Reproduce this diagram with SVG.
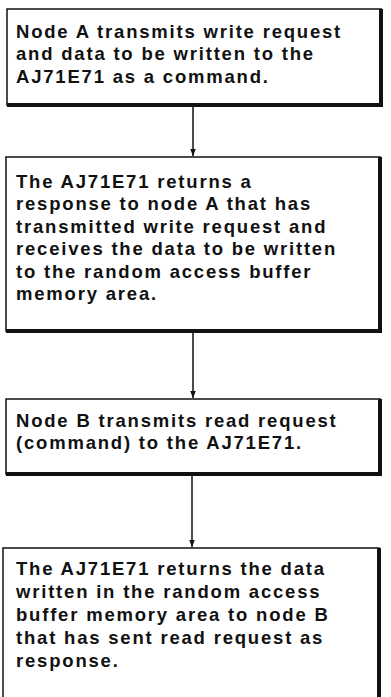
<svg xmlns="http://www.w3.org/2000/svg" width="391" height="697" viewBox="0 0 391 697">
<style>
.bg{fill:#ffffff}
.box{fill:#ffffff;stroke:#111;stroke-width:1.5}
.sh{stroke:#111;stroke-width:4;fill:none}
.t{font-family:"Liberation Sans",Arial,sans-serif;font-weight:bold;font-size:18.5px;fill:#111;letter-spacing:1.8px}
.c{stroke:#111;stroke-width:1.5;fill:none}
</style>
<defs>
<marker id="ah" markerWidth="8" markerHeight="8" refX="7.5" refY="4" orient="auto" markerUnits="userSpaceOnUse" viewBox="0 0 8 8">
<path d="M0,1 L7.5,4 L0,7 Z" fill="#111"/>
</marker>
</defs>
<rect class="bg" x="0" y="0" width="391" height="697"/>
<g id="connectors">
<line class="c" x1="193" y1="106" x2="193" y2="156" marker-end="url(#ah)"/>
<line class="c" x1="193" y1="332" x2="193" y2="398" marker-end="url(#ah)"/>
<line class="c" x1="192" y1="475" x2="192" y2="547" marker-end="url(#ah)"/>
</g>
<g id="node1">
<rect class="box" x="7" y="9" width="374" height="96"/>
<path class="sh" d="M7,105 L381,105 L381,9"/>
<text class="t" x="16" y="37.5">Node A transmits write request</text>
<text class="t" x="16" y="60">and data to be written to the</text>
<text class="t" x="16" y="82.5">AJ71E71 as a command.</text>
</g>
<g id="node2">
<rect class="box" x="6" y="157" width="374" height="174"/>
<path class="sh" d="M6,331 L380,331 L380,157"/>
<text class="t" x="16" y="187.5">The AJ71E71 returns a</text>
<text class="t" x="16" y="210">response to node A that has</text>
<text class="t" x="16" y="232.5">transmitted write request and</text>
<text class="t" x="16" y="255">receives the data to be written</text>
<text class="t" x="16" y="277.5">to the random access buffer</text>
<text class="t" x="16" y="300">memory area.</text>
</g>
<g id="node3">
<rect class="box" x="6" y="399" width="374" height="75"/>
<path class="sh" d="M6,474 L380,474 L380,399"/>
<text class="t" x="16" y="426.5">Node B transmits read request</text>
<text class="t" x="16" y="449">(command) to the AJ71E71.</text>
</g>
<g id="node4">
<path class="box" d="M3,700 L3,548 L379,548 L379,700"/>
<path class="sh" d="M379,548 L379,700"/>
<text class="t" x="16" y="574.5">The AJ71E71 returns the data</text>
<text class="t" x="16" y="597.5">written in the random access</text>
<text class="t" x="16" y="620.5">buffer memory area to node B</text>
<text class="t" x="16" y="643.5">that has sent read request as</text>
<text class="t" x="16" y="666.5">response.</text>
</g>
</svg>
